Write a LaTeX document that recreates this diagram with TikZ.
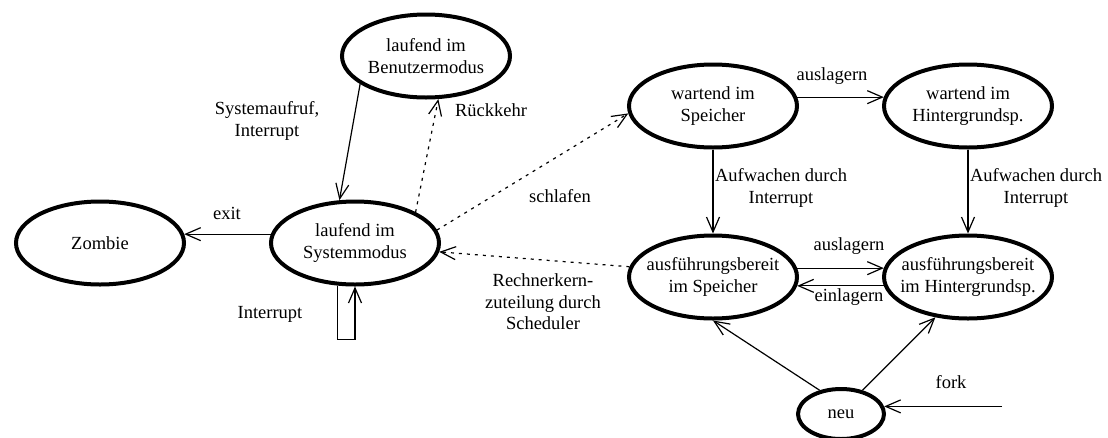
\documentclass[tikz,border=0pt]{standalone}
\usepackage{fontspec}
\setmainfont{Liberation Serif}
\usetikzlibrary{shapes.geometric,arrows.meta}

\begin{document}
\begin{tikzpicture}[x=1pt, y=-1pt, >={Straight Barb[length=15pt,width=13pt]}, line width=1.2pt,
    every node/.style={font=\fontsize{18.5}{21.5}\selectfont},
    zustand/.style={ellipse, draw, line width=4pt, minimum width=168pt, minimum height=83pt,
      inner xsep=-25pt, inner ysep=0pt, align=center},
    punkt/.style={dash pattern=on 3pt off 5pt}]
  \useasboundingbox (0,0) rectangle (1108,437);

  % 1. Zustaende (Ellipsen)
  \node[zustand] (zombie) at (100,243) {Zombie};
  \node[zustand] (sysmod) at (355,243) {laufend im\\Systemmodus};
  \node[zustand] (usrmod) at (426,56) {laufend im\\Benutzermodus};
  \node[zustand] (waitmem) at (713,106) {wartend im\\Speicher};
  \node[zustand] (waitbg) at (968,106) {wartend im\\Hintergrundsp.};
  \node[zustand] (readymem) at (713,277) {ausführungsbereit\\im Speicher};
  \node[zustand] (readybg) at (968,277) {ausführungsbereit\\im Hintergrundsp.};
  \node[zustand, minimum width=86pt, minimum height=50pt] (neu) at (841,414) {neu};
  \coordinate (forkin) at ([xshift=118pt]neu.10);

  % 2. Uebergaenge (durchgezogen)
  \draw[->] (usrmod.203) -- (sysmod.110);
  \draw[->] (sysmod.174) -- (zombie.6);
  \draw[->] (sysmod.248) -- ++(0,54) -| (sysmod.south);
  \draw[->] (waitmem.6) -- (waitbg.174);
  \draw[->] (waitmem.south) -- (readymem.north);
  \draw[->] (waitbg.south) -- (readybg.north);
  \draw[->] (readymem.6) -- (readybg.174);
  \draw[->] (readybg.186) -- (readymem.354);
  \draw[->] (neu.132) -- (readymem.south);
  \draw[->] (neu.48) -- (readybg.231);
  \draw[->] (forkin) -- (neu.10);

  % 3. Uebergaenge (gepunktet)
  \draw[->, punkt] (sysmod.27) -- (usrmod.286);
  \draw[->, punkt] (sysmod.9) -- (waitmem.185);
  \draw[->, punkt] (readymem.173) -- (sysmod.354);

  % 4. Beschriftungen
  \node[align=center] (sysauf) at (267,121) {Systemaufruf,\\Interrupt};
  \node (rueck) at (491,110) {Rückkehr};
  \node (schlaf) at (560,196) {schlafen};
  \node[align=center] (rkz) at (543,302) {Rechnerkern-\\zuteilung durch\\Scheduler};
  \node (exit) at (227,213) {exit};
  \node (intr) at (270,314) {Interrupt};
  \node (ausl1) at (832,76) {auslagern};
  \node[align=center] (aufw1) at (781,188) {Aufwachen durch\\Interrupt};
  \node[align=center] (aufw2) at (1036,188) {Aufwachen durch\\Interrupt};
  \node (ausl2) at (849,246) {auslagern};
  \node (einl) at (849,297) {einlagern};
  \node (fork) at (951,382) {fork};
\end{tikzpicture}
\end{document}
